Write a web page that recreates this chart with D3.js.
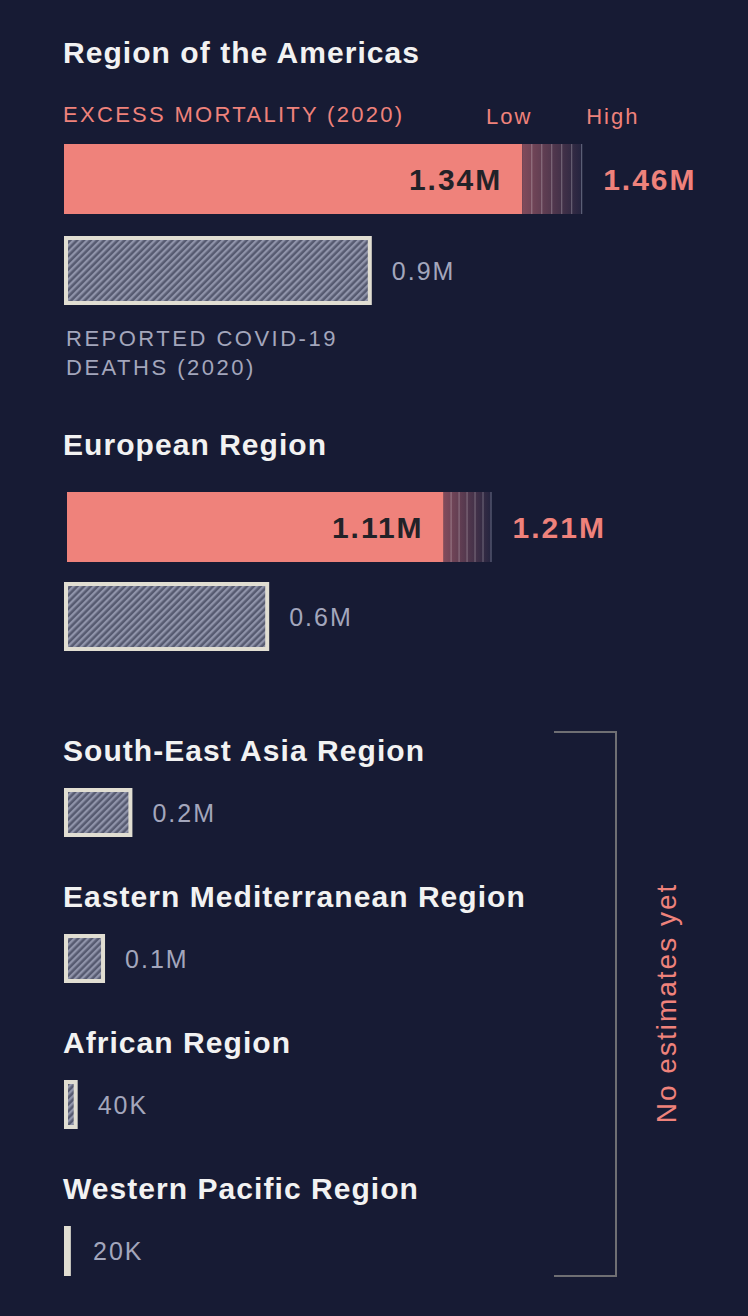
<!DOCTYPE html>
<html>
  <head>
    <meta charset="utf-8">
    <script type="text/javascript" src="https://cdn.jsdelivr.net/npm/d3@7"></script>
    <style>
      body { margin: 0; background: #171b34; }
      svg text { font-family: "Liberation Sans", Arial, sans-serif; }
    </style>
  </head>
  <body>
    <script type="text/javascript">
      // Data (deaths in millions)
      var regions = ["Region of the Americas", "European Region", "South-East Asia Region",
                     "Eastern Mediterranean Region", "African Region", "Western Pacific Region"];
      var reported = [0.9, 0.6, 0.2, 0.12, 0.04, 0.02];
      var reportedLabels = ["0.9M", "0.6M", "0.2M", "0.1M", "40K", "20K"];
      var excessLow = [1.34, 1.11];
      var excessHigh = [1.46, 1.21];
      var excessLowLabels = ["1.34M", "1.11M"];
      var excessHighLabels = ["1.46M", "1.21M"];
      // right edge of the faded uncertainty band, as drawn
      var bandEnd = [1.515, 1.25];

      var width = 748;
      var height = 1316;
      var salmon = "#ef827b";
      var grey = "#a3a6bc";

      var svg = d3.select("body")
                  .append("svg")
                  .attr("width", width)
                  .attr("height", height);

      svg.append("rect")
         .attr("width", width)
         .attr("height", height)
         .attr("fill", "#171b34");

      var defs = svg.append("defs");

      // Hatch pattern for reported deaths
      var hatch = defs.append("pattern")
                      .attr("id", "hatch")
                      .attr("patternUnits", "userSpaceOnUse")
                      .attr("width", 4.8)
                      .attr("height", 4.8)
                      .attr("patternTransform", "rotate(45)");
      hatch.append("rect")
           .attr("width", 4.8)
           .attr("height", 4.8)
           .attr("fill", "#565a70");
      hatch.append("rect")
           .attr("width", 2.3)
           .attr("height", 4.8)
           .attr("fill", "#9094aa");

      // Fading band between low and high
      var grad = defs.append("linearGradient")
                     .attr("id", "band")
                     .attr("x1", "0%").attr("x2", "100%")
                     .attr("y1", "0%").attr("y2", "0%");
      grad.append("stop").attr("offset", "0%").attr("stop-color", "#804b5c");
      grad.append("stop").attr("offset", "100%").attr("stop-color", "#24243f");

      var x = d3.scaleLinear()
                .domain([0, 1.5])
                .range([64, 64 + 1.5 * 342]);

      // Vertical layout per region
      var titleY = [63, 455, 761, 907, 1053, 1199];
      var excessTop = [144, 492];
      var excessShift = [0, 3];
      var reportedTop = [236, 582, 788, 934, 1080, 1226];
      var reportedH = [69, 69, 49, 49, 49, 50];

      // Titles
      svg.selectAll(".title")
         .data(regions)
         .enter()
         .append("text")
         .attr("class", "title")
         .attr("x", 63)
         .attr("y", function(d, i) { return titleY[i]; })
         .attr("fill", "#f2f2f2")
         .attr("font-size", 30)
         .attr("font-weight", "bold")
         .attr("letter-spacing", 1.05)
         .text(function(d) { return d; });

      // Excess mortality header
      svg.append("text")
         .attr("x", 63).attr("y", 122)
         .attr("fill", salmon)
         .attr("font-size", 22)
         .attr("letter-spacing", 2.3)
         .text("EXCESS MORTALITY (2020)");
      svg.append("text")
         .attr("x", x(excessLow[0]) + 10).attr("y", 124)
         .attr("text-anchor", "end")
         .attr("fill", salmon)
         .attr("font-size", 22)
         .attr("letter-spacing", 2)
         .text("Low");
      svg.append("text")
         .attr("x", x(bandEnd[0]) + 4).attr("y", 124)
         .attr("fill", salmon)
         .attr("font-size", 22)
         .attr("letter-spacing", 2)
         .text("High");

      // Excess bars
      svg.selectAll(".excess")
         .data(excessLow)
         .enter()
         .append("rect")
         .attr("class", "excess")
         .attr("x", function(d, i) { return x(0) + excessShift[i]; })
         .attr("y", function(d, i) { return excessTop[i]; })
         .attr("width", function(d, i) { return x(d) - x(0) - excessShift[i]; })
         .attr("height", 70)
         .attr("fill", salmon);

      svg.selectAll(".band")
         .data(excessLow)
         .enter()
         .append("rect")
         .attr("class", "band")
         .attr("x", function(d) { return x(d); })
         .attr("y", function(d, i) { return excessTop[i]; })
         .attr("width", function(d, i) { return x(bandEnd[i]) - x(d); })
         .attr("height", 70)
         .attr("fill", "url(#band)");

      // thin lines in the band
      excessLow.forEach(function(d, i) {
        var w = x(bandEnd[i]) - x(d);
        svg.selectAll(".bandline" + i)
           .data(d3.range(1, 7))
           .enter()
           .append("line")
           .attr("x1", function(k) { return x(d) + k * w / 6 - 0.5; })
           .attr("x2", function(k) { return x(d) + k * w / 6 - 0.5; })
           .attr("y1", excessTop[i])
           .attr("y2", excessTop[i] + 70)
           .attr("stroke", function(k) { return k == 6 ? "#5c6078" : "rgba(255,255,255,0.25)"; })
           .attr("stroke-width", 1.2);
      });

      svg.selectAll(".lowlabel")
         .data(excessLowLabels)
         .enter()
         .append("text")
         .attr("x", function(d, i) { return x(excessLow[i]) - 20; })
         .attr("y", function(d, i) { return excessTop[i] + 46; })
         .attr("text-anchor", "end")
         .attr("fill", "#222228")
         .attr("font-size", 30)
         .attr("font-weight", "bold")
         .attr("letter-spacing", 2)
         .text(function(d) { return d; });

      svg.selectAll(".highlabel")
         .data(excessHighLabels)
         .enter()
         .append("text")
         .attr("x", function(d, i) { return x(bandEnd[i]) + 21; })
         .attr("y", function(d, i) { return excessTop[i] + 46; })
         .attr("fill", salmon)
         .attr("font-size", 30)
         .attr("font-weight", "bold")
         .attr("letter-spacing", 2)
         .text(function(d) { return d; });

      // Reported bars
      svg.selectAll(".reported")
         .data(reported)
         .enter()
         .append("rect")
         .attr("class", "reported")
         .attr("x", x(0) + 2)
         .attr("y", function(d, i) { return reportedTop[i] + 2; })
         .attr("width", function(d) { return Math.max(x(d) - x(0) - 4, 0.5); })
         .attr("height", function(d, i) { return reportedH[i] - 4; })
         .attr("fill", "url(#hatch)")
         .attr("stroke", "#e1ded2")
         .attr("stroke-width", 4);

      svg.selectAll(".replabel")
         .data(reportedLabels)
         .enter()
         .append("text")
         .attr("x", function(d, i) { return Math.max(x(reported[i]), x(0) + 9) + 20; })
         .attr("y", function(d, i) { return reportedTop[i] + reportedH[i] / 2 + 9; })
         .attr("fill", grey)
         .attr("font-size", 25)
         .attr("letter-spacing", 2)
         .text(function(d) { return d; });

      // Reported caption
      svg.append("text")
         .attr("x", 66).attr("y", 346)
         .attr("fill", grey)
         .attr("font-size", 22)
         .attr("letter-spacing", 2.5)
         .text("REPORTED COVID-19");
      svg.append("text")
         .attr("x", 66).attr("y", 375)
         .attr("fill", grey)
         .attr("font-size", 22)
         .attr("letter-spacing", 2.5)
         .text("DEATHS (2020)");

      // Bracket for regions without estimates
      svg.append("path")
         .attr("d", "M554,732H616V1276H554")
         .attr("fill", "none")
         .attr("stroke", "#6f6f73")
         .attr("stroke-width", 2);
      svg.append("text")
         .attr("transform", "translate(676,1003) rotate(-90)")
         .attr("text-anchor", "middle")
         .attr("fill", salmon)
         .attr("font-size", 28)
         .attr("letter-spacing", 2)
         .text("No estimates yet");
    </script>
  </body>
</html>
